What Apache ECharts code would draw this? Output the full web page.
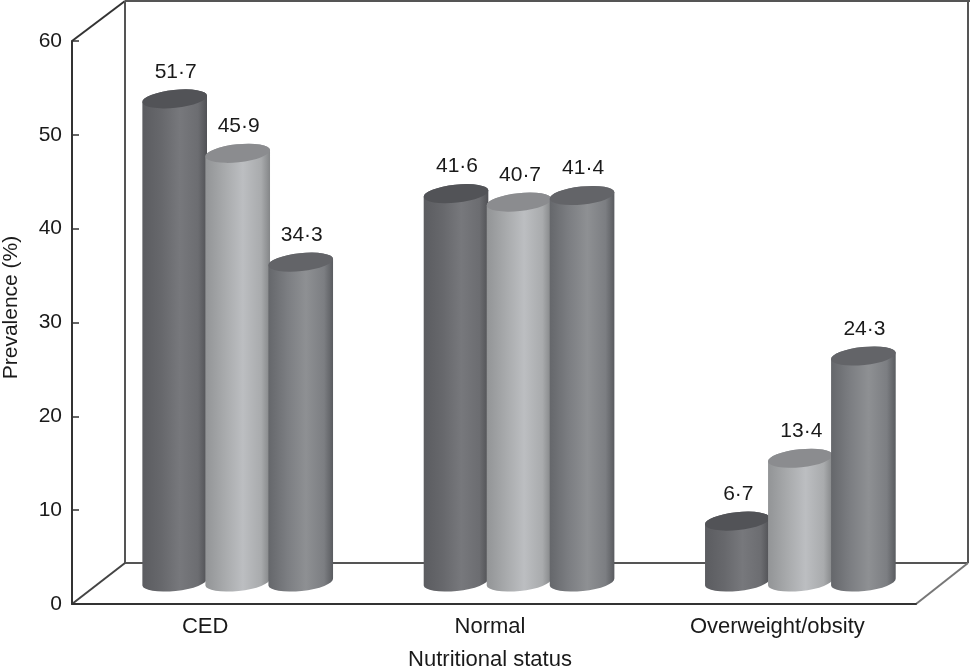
<!DOCTYPE html>
<html>
<head>
<meta charset="utf-8">
<style>html,body{margin:0;padding:0;background:#fff}#c{width:970px;height:672px}</style>
<script src="https://cdn.jsdelivr.net/npm/echarts@6/dist/echarts.min.js"></script>
</head>
<body>
<div id="c"></div>
<script>
var categories = ['CED', 'Normal', 'Overweight/obsity'];
var seriesA = [51.7, 41.6, 6.7];
var seriesB = [45.9, 40.7, 13.4];
var seriesC = [34.3, 41.4, 24.3];
var yTicks = [0, 60, 10];

var FONT = '"Liberation Sans", Arial, sans-serif';
var TEXT = '#1a1a1a';
var palettes = [
  {stops: ['#5b5c60', '#67686c', '#77787c', '#6c6d71', '#505155'], top: '#525357'},
  {stops: ['#929496', '#a8aaac', '#bcbec1', '#a9abad', '#838587'], top: '#8b8c8f'},
  {stops: ['#65676b', '#7c7e82', '#8e9093', '#7c7e82', '#595b5f'], top: '#636468'}
];

function toDotted(v) { return String(v).replace('.', '\u00b7'); }

function cylinder(idx) {
  var pal = palettes[idx];
  return function (params, api) {
    var base = api.coord([api.value(0), 0]);
    var top = api.coord([api.value(0), api.value(1)]);
    var band = api.size([1, 0])[0];
    var step = band * 0.224;
    var w = band * 0.231;
    var cx = base[0] + band * 0.089 + (idx - 1) * step;
    var by = base[1] - 22, ty = top[1] - 20;
    var rx = w / 2, ry = 9, tilt = 6 * Math.PI / 180;
    var dx = rx * Math.cos(tilt), dy = rx * Math.sin(tilt);
    var deg = -6;
    var body = 'M' + (cx - dx) + ' ' + (ty + dy) +
      ' L' + (cx - dx) + ' ' + (by + dy) +
      ' A' + rx + ' ' + ry + ' ' + deg + ' 0 0 ' + (cx + dx) + ' ' + (by - dy) +
      ' L' + (cx + dx) + ' ' + (ty - dy) +
      ' A' + rx + ' ' + ry + ' ' + deg + ' 0 0 ' + (cx - dx) + ' ' + (ty + dy) + ' Z';
    var cap = 'M' + (cx - dx) + ' ' + (ty + dy) +
      ' A' + rx + ' ' + ry + ' ' + deg + ' 1 1 ' + (cx + dx) + ' ' + (ty - dy) +
      ' A' + rx + ' ' + ry + ' ' + deg + ' 1 1 ' + (cx - dx) + ' ' + (ty + dy) + ' Z';
    var stops = pal.stops.map(function (c, i) {
      return {offset: [0, 0.3, 0.58, 0.86, 1][i], color: c};
    });
    return {
      type: 'group',
      children: [
        {type: 'path', shape: {pathData: body},
          style: {fill: {type: 'linear', x: 0, y: 0, x2: 1, y2: 0, colorStops: stops}}},
        {type: 'path', shape: {pathData: cap},
          style: {fill: pal.top}},
        {type: 'text', x: cx + 1, y: ty - 27,
          style: {text: toDotted(api.value(1)), font: '21px ' + FONT, fill: TEXT,
            textAlign: 'center', textVerticalAlign: 'middle'}}
      ]
    };
  };
}

function rows(vals) { return vals.map(function (v, i) { return [i, v]; }); }

function seg(x1, y1, x2, y2, color, width) {
  return {type: 'line', z: 0, shape: {x1: x1, y1: y1, x2: x2, y2: y2},
    style: {stroke: color, lineWidth: width || 2}};
}

var chart = echarts.init(document.getElementById('c'));
chart.setOption({
  animation: false,
  backgroundColor: '#fff',
  grid: {left: 72, right: 54, top: 41, bottom: 68, outerBoundsMode: 'none', containLabel: false},
  xAxis: {
    type: 'category', data: categories,
    name: 'Nutritional status', nameLocation: 'middle', nameGap: 45,
    nameTextStyle: {fontFamily: FONT, fontSize: 22, color: TEXT, padding: [0, 8, 0, 0]},
    axisLine: {lineStyle: {color: '#333', width: 2}},
    axisTick: {inside: true, length: 7, lineStyle: {color: '#333', width: 1.5}},
    axisLabel: {
      margin: 12, color: TEXT, fontFamily: FONT, fontSize: 22, interval: 0,
      formatter: function (v, i) { return '{k' + i + '|' + v + '}'; },
      rich: {
        k0: {fontFamily: FONT, fontSize: 22, color: TEXT, padding: [0, 15, 0, 0]},
        k1: {fontFamily: FONT, fontSize: 22, color: TEXT, padding: [0, 8, 0, 0]},
        k2: {fontFamily: FONT, fontSize: 22, color: TEXT, padding: [0, 0, 0, 4]}
      }
    },
    splitLine: {show: false}
  },
  yAxis: {
    type: 'value', min: yTicks[0], max: yTicks[1], interval: yTicks[2],
    name: 'Prevalence (%)', nameLocation: 'middle', nameGap: 50,
    nameTextStyle: {fontFamily: FONT, fontSize: 21, color: TEXT, padding: [0, 0, 0, 30]},
    axisLine: {show: true, lineStyle: {color: '#333', width: 2}},
    axisTick: {show: true, inside: true, length: 7, lineStyle: {color: '#333', width: 1.5}},
    axisLabel: {margin: 10, color: TEXT, fontFamily: FONT, fontSize: 21},
    splitLine: {show: false}
  },
  graphic: {elements: [
    seg(72, 41, 125, 1, '#333'),
    seg(125, 1, 970, 1, '#555'),
    seg(125, 1, 125, 563, '#555'),
    seg(968, 1, 968, 563, '#555'),
    seg(125, 563, 968, 563, '#555'),
    seg(72, 604, 125, 563, '#444'),
    seg(916, 604, 968, 563, '#777')
  ]},
  series: [seriesA, seriesB, seriesC].map(function (vals, i) {
    return {
      type: 'custom', coordinateSystem: 'cartesian2d', clip: false,
      encode: {x: 0, y: 1}, data: rows(vals), z: 5 + i,
      renderItem: cylinder(i)
    };
  })
});
</script>
</body>
</html>
